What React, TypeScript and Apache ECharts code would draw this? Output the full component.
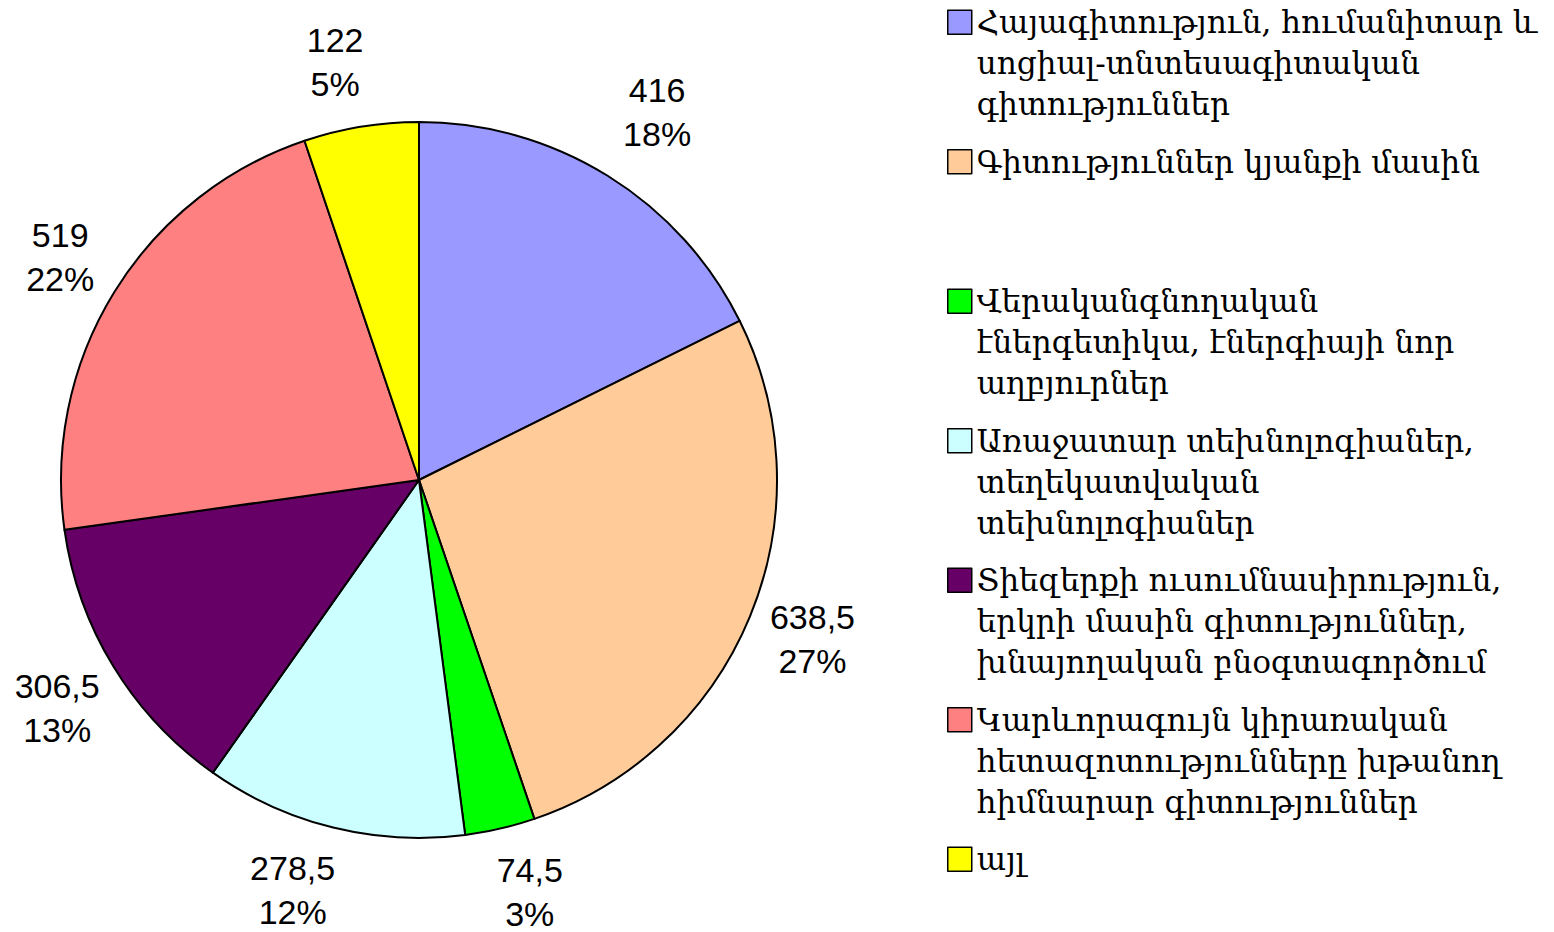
import React, { useEffect, useRef } from "react";
import * as echarts from "echarts";

const legendLines: string[][] = [
  ["Հայագիտություն, հումանիտար և", "սոցիալ-տնտեսագիտական", "գիտություններ"],
  ["Գիտություններ կյանքի մասին"],
  ["Վերականգնողական", "էներգետիկա, էներգիայի նոր", "աղբյուրներ"],
  ["Առաջատար տեխնոլոգիաներ,", "տեղեկատվական", "տեխնոլոգիաներ"],
  ["Տիեզերքի ուսումնասիրություն,", "երկրի մասին գիտություններ,", "խնայողական բնօգտագործում"],
  ["Կարևորագույն կիրառական", "հետազոտությունները խթանող", "հիմնարար գիտություններ"],
  ["այլ"],
];
const categories: string[] = legendLines.map((l) => l.join(" "));
const values: number[] = [416, 638.5, 74.5, 278.5, 306.5, 519, 122];
const colors: string[] = ["#9999FF", "#FFCC99", "#00FF00", "#CCFFFF", "#660066", "#FF8080", "#FFFF00"];

const fmtNum = (v: number) => String(v).replace(".", ",");

export default function App() {
  const ref = useRef<HTMLDivElement>(null);
  useEffect(() => {
    document.body.style.margin = "0";
    const chart = echarts.init(ref.current!, null, { renderer: "svg" });
    const total = values.reduce((a, b) => a + b, 0);
    // small label nudges to mimic the original placement
    const nudge: number[][] = [[11, -2], [-5, -5], [13, -8], [-23, -8], [6, 3], [8, 3], [-14, 7]];
    const lineH = 41;
    const itemH = lineH * 3;
    chart.setOption({
      animation: false,
      backgroundColor: "#FFFFFF",
      legend: {
        orient: "vertical",
        left: 947,
        top: 1,
        height: 1000,
        padding: 0,
        itemWidth: 24,
        itemHeight: itemH,
        itemGap: 15,
        icon: `path://M0,8.5H24V32.5H0Z M0,0H0.01 M0,${itemH}H0.01`,
        symbolKeepAspect: false,
        selectedMode: false,
        itemStyle: { borderColor: "#000", borderWidth: 1.5 },
        data: categories,
        formatter: (name: string) => {
          const i = categories.indexOf(name);
          const lines = legendLines[i].slice();
          while (lines.length < 3) lines.push("\u00a0");
          return lines.join("\n");
        },
        textStyle: {
          fontFamily: "DejaVu Serif",
          fontSize: 31,
          lineHeight: lineH,
          color: "#000",
        },
      },
      series: [
        {
          type: "pie",
          center: [419, 480],
          radius: 358,
          startAngle: 90,
          clockwise: true,
          silent: true,
          label: { show: false },
          labelLine: { show: false },
          itemStyle: { borderColor: "#000", borderWidth: 2 },
          emphasis: { disabled: true },
          data: categories.map((name, i) => ({
            name,
            value: values[i],
            itemStyle: { color: colors[i] },
          })),
        },
        {
          type: "pie",
          center: [419, 480],
          radius: [400, 456],
          startAngle: 90,
          clockwise: true,
          silent: true,
          labelLine: { show: false },
          itemStyle: { color: "transparent", borderWidth: 0 },
          emphasis: { disabled: true },
          label: {
            show: true,
            position: "inside",
            color: "#000",
            fontFamily: "Liberation Sans, Arial, sans-serif",
            fontSize: 34,
            lineHeight: 44,
            textBorderWidth: 0,
            formatter: (p: any) =>
              fmtNum(p.value) + "\n" + Math.round((p.value / total) * 100) + "%",
          },
          data: values.map((v, i) => ({ value: v, label: { offset: nudge[i] } })),
        },
      ],
    });
    return () => chart.dispose();
  }, []);
  return <div ref={ref} style={{ width: 1554, height: 932 }} />;
}
